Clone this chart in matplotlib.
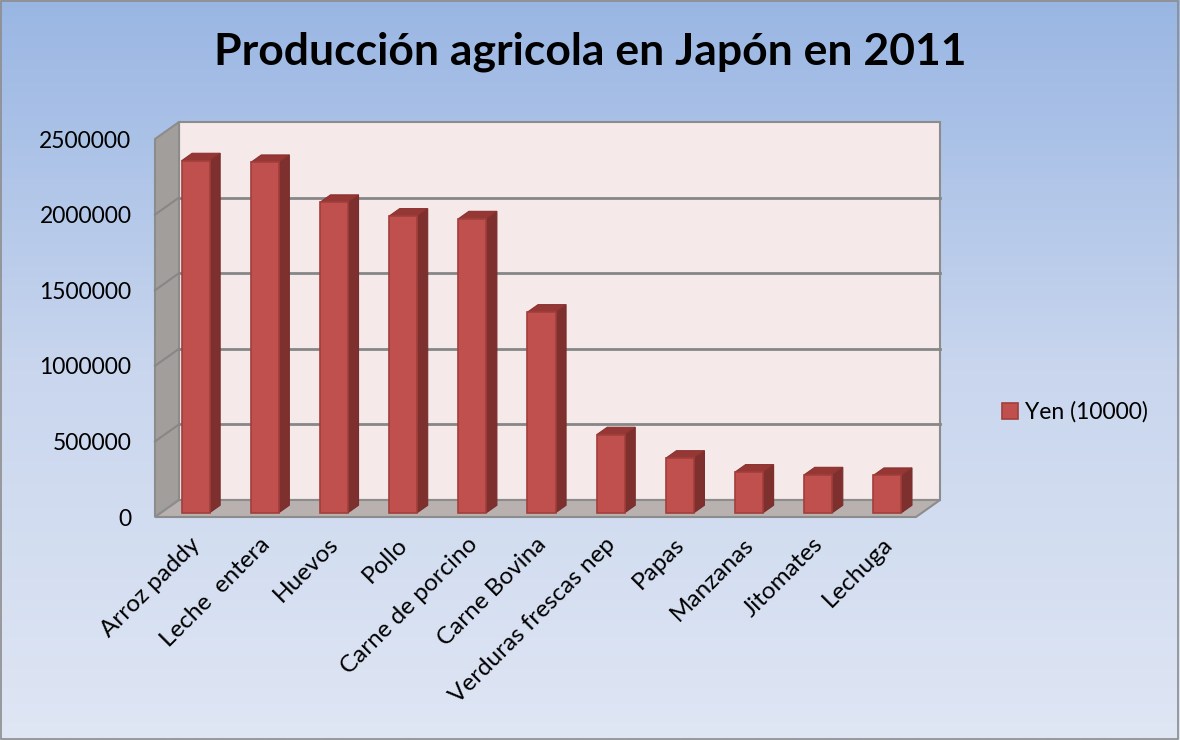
import numpy as np
import matplotlib.pyplot as plt
from matplotlib.patches import Polygon, Rectangle
from matplotlib.transforms import ScaledTranslation, IdentityTransform
from matplotlib.colors import LinearSegmentedColormap

plt.rcParams['font.family'] = ['Lato', 'DejaVu Sans']

categories = ["Arroz paddy", "Leche  entera", "Huevos", "Pollo", "Carne de porcino",
              "Carne Bovina", "Verduras frescas nep", "Papas", "Manzanas",
              "Jitomates", "Lechuga"]
values = [2328000, 2317000, 2053000, 1962000, 1944000, 1327000,
          516000, 361000, 269000, 251000, 247000]
yticks = [0, 500000, 1000000, 1500000, 2000000, 2500000]
series_name = "Yen (10000)"

W, H = 1180, 740
fig = plt.figure(figsize=(W / 100, H / 100), dpi=100)

# background gradient
bg = fig.add_axes([0, 0, 1, 1], zorder=-10)
cmap = LinearSegmentedColormap.from_list("bg", ["#DFE6F4", "#C9D6EE", "#99B6E3"])
bg.imshow(np.linspace(0, 1, 256).reshape(-1, 1), aspect="auto", cmap=cmap,
          origin="lower", extent=[0, 1, 0, 1])
bg.axis("off")
fig.patches.append(Rectangle((0.001, 0.002), 0.997, 0.996, transform=fig.transFigure,
                             fill=False, ec="#8C8C8C", lw=1.2))

# front plane of the plot box
ax = fig.add_axes([155 / W, (H - 517) / H, 761 / W, 378 / H])
ax.set_xlim(-0.5, len(categories) - 0.5)
ax.set_ylim(0, 2500000)
for s in ax.spines.values():
    s.set_visible(False)
ax.patch.set_visible(False)

# depth of the floor in pixels
DX, DY = 24, 17


def proj(x, v, d):
    px, py = ax.transData.transform((x, v))
    return (px + DX * d, py + DY * d)


def poly(pts, **kw):
    ax.add_patch(Polygon(pts, closed=True, transform=IdentityTransform(),
                         clip_on=False, **kw))


def seg(a, b, **kw):
    ax.plot([a[0], b[0]], [a[1], b[1]], transform=IdentityTransform(),
            clip_on=False, **kw)


fig.canvas.draw()
x0, x1 = ax.get_xlim()
vmax = ax.get_ylim()[1]

# back wall, side wall and floor
poly([proj(x0, 0, 1), proj(x1, 0, 1), proj(x1, vmax, 1), proj(x0, vmax, 1)],
     fc="#F5E9E9", ec="#8C8C8C", lw=1.5, zorder=1)
poly([proj(x0, 0, 0), proj(x0, 0, 1), proj(x0, vmax, 1), proj(x0, vmax, 0)],
     fc="#A29E9C", ec="#8C8C8C", lw=1.5, zorder=1)
poly([proj(x0, 0, 0), proj(x1, 0, 0), proj(x1, 0, 1), proj(x0, 0, 1)],
     fc="#B8B1AF", ec="#8C8C8C", lw=1.5, zorder=1)

# gridlines on the walls
for t in yticks[1:-1]:
    seg(proj(x0, t, 1), proj(x1, t, 1), color="#878787", lw=2, zorder=2)
    seg(proj(x0, t, 0), proj(x0, t, 1), color="#878787", lw=1.5, zorder=2)

# bars: front face through ax.bar, side and top from the same values
bw = 0.405
df, db = 0.25, 0.69
front = ScaledTranslation(DX * df / 100, DY * df / 100, fig.dpi_scale_trans)
xs = np.arange(len(categories))
ax.bar(xs, values, width=bw, color="#C0504D", edgecolor="#A23E3B", lw=1.2,
       transform=ax.transData + front, zorder=5, label=series_name, clip_on=False)
for x, v in zip(xs, values):
    l, r = x - bw / 2, x + bw / 2
    poly([proj(r, 0, df), proj(r, 0, db), proj(r, v, db), proj(r, v, df)],
         fc="#7E302E", ec="#7A2D2B", lw=0.8, zorder=4)
    poly([proj(l, v, df), proj(r, v, df), proj(r, v, db), proj(l, v, db)],
         fc="#953735", ec="#8A3230", lw=0.8, zorder=4)

ax.set_yticks(yticks)
ax.set_yticklabels([str(t) for t in yticks], fontsize=16.5)
ax.tick_params(axis="y", length=0, pad=17)
ax.set_xticks(xs)
ax.set_xticklabels(categories, rotation=45, ha="right", rotation_mode="anchor",
                   fontsize=17.5)
ax.tick_params(axis="x", length=0, pad=12)

fig.text(0.5, 1 - 52 / H, "Producción agricola en Japón en 2011", ha="center",
         va="center", fontsize=32, fontweight="bold")

ax.legend(loc="center left", bbox_to_anchor=(981 / W, 1 - 412 / H),
          bbox_transform=fig.transFigure, frameon=False, fontsize=16.5,
          handlelength=0.7, handleheight=0.7, handletextpad=0.3)

fig.savefig("out.png", dpi=100)
